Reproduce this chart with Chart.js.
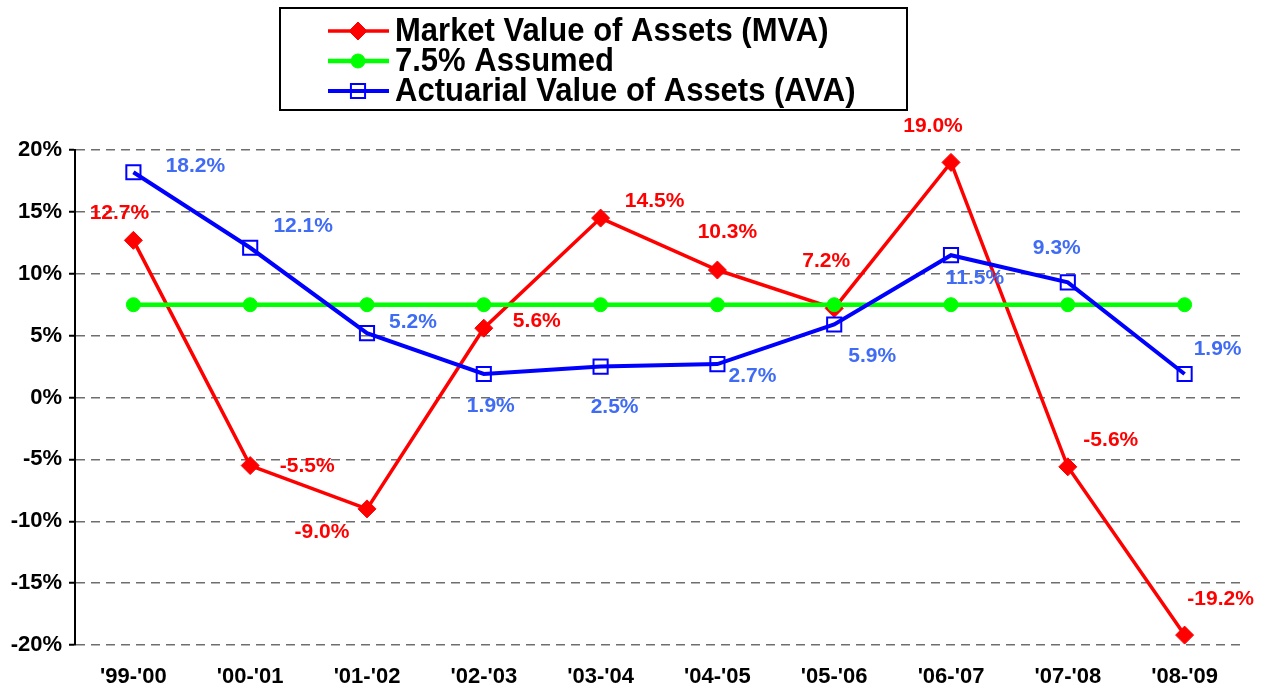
<!DOCTYPE html>
<html>
<head>
<meta charset="utf-8">
<title>MVA vs AVA returns</title>
<script src="https://cdn.jsdelivr.net/npm/chart.js@4/dist/chart.umd.min.js"></script>
<style>
    body { margin: 0; background: #ffffff; }
    #wrap { width: 1262px; height: 688px; }
</style>
</head>
<body>
<div id="wrap"><canvas id="rendements" width="1262" height="688"></canvas></div>
<script>
// Data
const years = ["'99-'00", "'00-'01", "'01-'02", "'02-'03", "'03-'04", "'04-'05", "'05-'06", "'06-'07", "'07-'08", "'08-'09"];
const mva = [12.7, -5.5, -9.0, 5.6, 14.5, 10.3, 7.2, 19.0, -5.6, -19.2];
const assumed = [7.5, 7.5, 7.5, 7.5, 7.5, 7.5, 7.5, 7.5, 7.5, 7.5];
const ava = [18.2, 12.1, 5.2, 1.9, 2.5, 2.7, 5.9, 11.5, 9.3, 1.9];
const yTicks = [-20, -15, -10, -5, 0, 5, 10, 15, 20];

// where each value label sits relative to its point (px)
const mvaLabelOffsets = [[-14, -27], [57, 1], [-45, 23], [53, -7], [54, -17], [10, -38], [-8, -47], [-18, -36], [43, -27], [36, -36]];
const avaLabelOffsets = [[62, -6], [53, -22], [46, -11], [7, 32], [14, 41], [35, 12], [38, 32], [24, 23], [-11, -34], [33, -25]];

const FONT = 'Arial, "Liberation Sans", sans-serif';
const RED = '#FF0000';
const GREEN = '#00FF00';
const BLUE = '#0000FF';
const BLUE_TEXT = '#3F6BF5';

document.addEventListener("DOMContentLoaded", function () {
    const canvas = document.getElementById("rendements");
    const ctx = canvas.getContext('2d');

    // value labels next to the points
    const valueLabels = {
        id: 'valueLabels',
        afterDatasetsDraw(chart) {
            const c = chart.ctx;
            c.save();
            c.font = 'bold 21px ' + FONT;
            c.textAlign = 'center';
            c.textBaseline = 'middle';
            chart.data.datasets.forEach(function (ds, i) {
                if (!ds.labelOffsets) return;
                const meta = chart.getDatasetMeta(i);
                c.fillStyle = ds.labelColor;
                meta.data.forEach(function (pt, j) {
                    const off = ds.labelOffsets[j];
                    c.fillText(ds.data[j].toFixed(1) + '%', pt.x + off[0], pt.y + off[1]);
                });
            });
            c.restore();
        }
    };

    // boxed legend at the top, line + marker samples
    const boxLegend = {
        id: 'boxLegend',
        afterDraw(chart) {
            const c = chart.ctx;
            c.save();
            c.strokeStyle = '#000000';
            c.lineWidth = 2;
            c.strokeRect(280, 8, 627, 102);
            chart.data.datasets.forEach(function (ds, i) {
                const y = 31 + i * 30;
                c.save();
                c.strokeStyle = ds.borderColor;
                c.lineWidth = ds.borderWidth;
                c.beginPath();
                c.moveTo(328, y);
                c.lineTo(389, y);
                c.stroke();
                c.fillStyle = ds.pointBackgroundColor;
                c.strokeStyle = ds.pointBorderColor;
                c.lineWidth = ds.pointBorderWidth;
                Chart.helpers.drawPoint(c, {
                    pointStyle: ds.pointStyle,
                    radius: ds.pointRadius,
                    rotation: 0,
                    borderWidth: ds.pointBorderWidth
                }, 358, y);
                c.restore();

                // slightly taller text, like the original
                c.save();
                c.translate(395, y + 1);
                c.scale(1, 1.1);
                c.font = 'bold 31px ' + FONT;
                c.textBaseline = 'middle';
                c.textAlign = 'left';
                c.fillStyle = '#000000';
                c.fillText(ds.label, 0, 0);
                c.restore();
            });
            c.restore();
        }
    };

    new Chart(ctx, {
        type: 'line',
        data: {
            labels: years,
            datasets: [{
                label: 'Market Value of Assets (MVA)',
                data: mva,
                borderColor: RED,
                borderWidth: 3.5,
                pointStyle: 'rectRot',
                pointRadius: 9,
                pointBorderWidth: 1,
                pointBackgroundColor: RED,
                pointBorderColor: RED,
                tension: 0,
                order: 3,
                labelOffsets: mvaLabelOffsets,
                labelColor: RED
            }, {
                label: '7.5% Assumed',
                data: assumed,
                borderColor: GREEN,
                borderWidth: 4.5,
                pointStyle: 'circle',
                pointRadius: 7,
                pointBorderWidth: 1,
                pointBackgroundColor: GREEN,
                pointBorderColor: GREEN,
                tension: 0,
                order: 2
            }, {
                label: 'Actuarial Value of Assets (AVA)',
                data: ava,
                borderColor: BLUE,
                borderWidth: 4,
                pointStyle: 'rect',
                pointRadius: 10,
                pointBorderWidth: 2,
                pointBackgroundColor: 'rgba(0, 0, 0, 0)',
                pointBorderColor: BLUE,
                tension: 0,
                order: 1,
                labelOffsets: avaLabelOffsets,
                labelColor: BLUE_TEXT
            }]
        },
        options: {
            responsive: false,
            animation: false,
            devicePixelRatio: 1,
            layout: { padding: { top: 150, right: 19, left: 0, bottom: 0 } },
            plugins: {
                legend: { display: false },
                tooltip: { enabled: false }
            },
            scales: {
                x: {
                    offset: true,
                    afterFit: function (scale) { scale.height = 43; },
                    grid: { display: false, drawTicks: false },
                    border: { display: false },
                    ticks: {
                        color: '#000000',
                        padding: 19,
                        font: { family: FONT, size: 22, weight: 'bold' }
                    }
                },
                y: {
                    min: -20,
                    max: 20,
                    afterFit: function (scale) { scale.width = 75; },
                    afterBuildTicks: function (scale) {
                        scale.ticks = yTicks.map(function (v) { return { value: v }; });
                    },
                    border: { display: true, color: '#000000', width: 2, dash: [9, 6] },
                    grid: {
                        color: '#6e6e6e',
                        lineWidth: 1.5,
                        drawTicks: true,
                        tickLength: 6,
                        tickColor: '#000000',
                        tickWidth: 2,
                        tickBorderDash: []
                    },
                    ticks: {
                        color: '#000000',
                        padding: 7,
                        font: { family: FONT, size: 22, weight: 'bold' },
                        callback: function (v) { return v + '%'; }
                    }
                }
            }
        },
        plugins: [valueLabels, boxLegend]
    });
});
</script>
</body>
</html>
